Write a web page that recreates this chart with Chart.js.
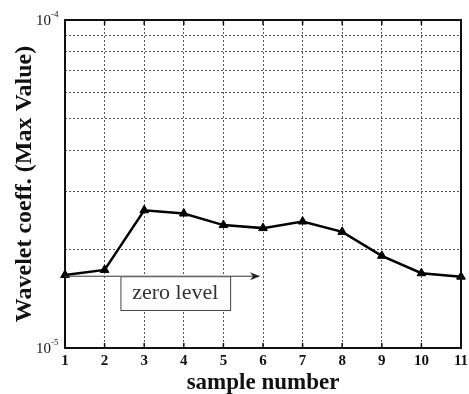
<!DOCTYPE html>
<html>
<head>
<meta charset="utf-8">
<script src="https://cdn.jsdelivr.net/npm/chart.js@4"></script>
<style>
  html, body { margin: 0; padding: 0; background: #fff; }
  #wrap { width: 469px; height: 394px; }
</style>
</head>
<body>
<div id="wrap"><canvas id="chart" width="469" height="394"></canvas></div>
<script>
// ========= DATA ========= //
const samples = [1, 2, 3, 4, 5, 6, 7, 8, 9, 10, 11];
const coeffMax = [1.67e-5, 1.73e-5, 2.63e-5, 2.57e-5, 2.37e-5, 2.32e-5, 2.43e-5, 2.26e-5, 1.91e-5, 1.69e-5, 1.65e-5];

const yMin = 1e-5;
const yMax = 1e-4;
const yGrid = [1e-5, 2e-5, 3e-5, 4e-5, 5e-5, 6e-5, 7e-5, 8e-5, 9e-5, 1e-4];
const yLabelExp = [[1e-5, "-5"], [1e-4, "-4"]];

// "zero level" note: arrow from sample 1 to ~5.9, box from 2.4 to 5.17
const zeroLevel = 1.655e-5;
const arrowEnd = 5.9;
const noteBox = { x0: 2.4, x1: 5.17, yTop: 1.655e-5, yBottom: 1.306e-5 };
const noteText = "zero level";

const SERIF = "'Liberation Serif', 'DejaVu Serif', serif";

// ========= PLUGIN: frame, inward ticks, y labels, note ========= //
const extras = {
    id: "extras",
    afterDraw(chart) {
        const ctx = chart.ctx;
        const a = chart.chartArea;
        const xs = chart.scales.x;
        const ys = chart.scales.y;

        ctx.save();
        // frame
        ctx.strokeStyle = "#111";
        ctx.lineWidth = 2;
        ctx.strokeRect(a.left, a.top, a.right - a.left, a.bottom - a.top);

        // small inward ticks on top and bottom
        ctx.lineWidth = 1.5;
        samples.forEach(s => {
            const px = xs.getPixelForValue(s);
            ctx.beginPath();
            ctx.moveTo(px, a.top);
            ctx.lineTo(px, a.top + 5);
            ctx.moveTo(px, a.bottom);
            ctx.lineTo(px, a.bottom - 5);
            ctx.stroke();
        });

        // y labels as 10 with exponent
        ctx.fillStyle = "#111";
        yLabelExp.forEach(([v, e]) => {
            const py = ys.getPixelForValue(v);
            ctx.font = "15px " + SERIF;
            ctx.textAlign = "right";
            ctx.textBaseline = "middle";
            ctx.fillText("10", a.left - 14, py + 1);
            ctx.font = "9px " + SERIF;
            ctx.textAlign = "left";
            ctx.fillText(e, a.left - 14, py - 5);
        });

        // zero level arrow
        const ay = ys.getPixelForValue(zeroLevel);
        const ax0 = xs.getPixelForValue(samples[0]);
        const ax1 = xs.getPixelForValue(arrowEnd);
        ctx.strokeStyle = "#333";
        ctx.lineWidth = 1;
        ctx.beginPath();
        ctx.moveTo(ax0, ay);
        ctx.lineTo(ax1, ay);
        ctx.stroke();
        ctx.fillStyle = "#222";
        ctx.beginPath();
        ctx.moveTo(ax1 + 1, ay);
        ctx.lineTo(ax1 - 9, ay - 4);
        ctx.lineTo(ax1 - 6, ay);
        ctx.lineTo(ax1 - 9, ay + 4);
        ctx.closePath();
        ctx.fill();

        // note box
        const bx0 = xs.getPixelForValue(noteBox.x0);
        const bx1 = xs.getPixelForValue(noteBox.x1);
        const by0 = ys.getPixelForValue(noteBox.yTop);
        const by1 = ys.getPixelForValue(noteBox.yBottom);
        ctx.fillStyle = "#fff";
        ctx.fillRect(bx0, by0, bx1 - bx0, by1 - by0);
        ctx.strokeStyle = "#444";
        ctx.strokeRect(bx0 + 0.5, by0 + 0.5, bx1 - bx0, by1 - by0);
        ctx.fillStyle = "#333";
        ctx.font = "22px " + SERIF;
        ctx.textAlign = "center";
        ctx.textBaseline = "middle";
        ctx.fillText(noteText, (bx0 + bx1) / 2, (by0 + by1) / 2);
        ctx.restore();
    }
};

// ========= CHART ========= //
new Chart(document.getElementById("chart"), {
    type: "line",
    data: {
        datasets: [{
            label: "Wavelet coeff. (Max Value)",
            data: samples.map((s, i) => ({ x: s, y: coeffMax[i] })),
            borderColor: "#000",
            backgroundColor: "#000",
            borderWidth: 2.5,
            pointStyle: "triangle",
            pointRadius: 5,
            pointBorderWidth: 1,
            tension: 0,
            clip: false
        }]
    },
    options: {
        responsive: false,
        animation: false,
        layout: { padding: { top: 20, right: 8, left: 0, bottom: 0 } },
        plugins: { legend: { display: false }, tooltip: { enabled: false } },
        scales: {
            x: {
                type: "linear",
                min: 1,
                max: 11,
                afterFit: s => { s.height = 46; s.paddingLeft = 0; s.paddingRight = 0; },
                ticks: {
                    stepSize: 1,
                    color: "#111",
                    padding: 4,
                    font: { family: SERIF, size: 15, weight: "bold" }
                },
                grid: { color: "#555", lineWidth: 1, drawTicks: false },
                border: { display: false, dash: [2, 2] },
                title: {
                    display: true,
                    text: "sample number",
                    color: "#111",
                    padding: { top: 0, bottom: -1 },
                    font: { family: SERIF, size: 23, weight: "bold", lineHeight: 1 }
                }
            },
            y: {
                type: "logarithmic",
                min: yMin,
                max: yMax,
                afterFit: s => { s.width = 65; },
                afterBuildTicks: s => { s.ticks = yGrid.map(v => ({ value: v })); },
                ticks: { autoSkip: false, callback: () => "" },
                grid: { color: "#555", lineWidth: 1, drawTicks: false },
                border: { display: false, dash: [2, 2] },
                title: {
                    display: true,
                    text: "Wavelet coeff. (Max Value)",
                    color: "#111",
                    padding: { top: 10, bottom: 0 },
                    font: { family: SERIF, size: 24, weight: "bold" }
                }
            }
        }
    },
    plugins: [extras]
});
</script>
</body>
</html>
